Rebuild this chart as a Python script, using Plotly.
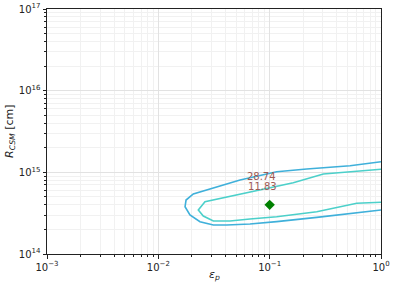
import numpy as np
import plotly.graph_objects as go

# contour levels (log10 values)
outer_level = "28.74"
inner_level = "11.83"

outer_logx = [0.0, -0.278, -0.667, -0.937, -1.266, -1.476, -1.686, -1.751, -1.760, -1.716,
              -1.626, -1.506, -1.386, -1.177, -0.937, -0.577, -0.278, 0.0]
outer_logy = [15.130, 15.081, 15.041, 15.008, 14.906, 14.824, 14.735, 14.661, 14.579, 14.478,
              14.396, 14.355, 14.355, 14.367, 14.396, 14.449, 14.498, 14.539]

inner_logx = [0.0, -0.518, -0.788, -1.087, -1.386, -1.581, -1.641, -1.596, -1.506, -1.356,
              -1.177, -0.937, -0.577, -0.218, 0.0]
inner_logy = [15.037, 14.980, 14.873, 14.784, 14.694, 14.640, 14.539, 14.465, 14.404, 14.404,
              14.429, 14.457, 14.518, 14.621, 14.633]

best_x = [0.1]
best_y = [4e14]

label_x = [0.084, 0.086]
label_y = [8.7e14, 6.5e14]
label_text = [outer_level, inner_level]

x_exponents = [-3, -2, -1, 0]
y_exponents = [14, 15, 16, 17]
x_ticktext = ["10<sup>−3</sup>", "10<sup>−2</sup>", "10<sup>−1</sup>", "10<sup>0</sup>"]
y_ticktext = ["10<sup>14</sup>", "10<sup>15</sup>", "10<sup>16</sup>", "10<sup>17</sup>"]

fig = go.Figure()
fig.add_trace(go.Scatter(x=10 ** np.array(outer_logx), y=10 ** np.array(outer_logy), mode="lines",
                         line=dict(color="#3fb0da", width=1.6), showlegend=False))
fig.add_trace(go.Scatter(x=10 ** np.array(inner_logx), y=10 ** np.array(inner_logy), mode="lines",
                         line=dict(color="#4cd0ca", width=1.6), showlegend=False))
fig.add_trace(go.Scatter(x=best_x, y=best_y, mode="markers",
                         marker=dict(symbol="diamond", color="green", size=8), showlegend=False))
fig.add_trace(go.Scatter(x=label_x, y=label_y, mode="text", text=label_text,
                         textfont=dict(color="#9e5a55", size=10, family="DejaVu Sans"),
                         showlegend=False))

axis_common = dict(
    type="log", showline=True, linecolor="#222", linewidth=1, mirror=True,
    ticks="outside", ticklen=3.5, tickcolor="#222", showgrid=True, gridcolor="#e2e2e2",
    gridwidth=1, zeroline=False, automargin=False, tickmode="array",
    tickfont=dict(family="DejaVu Sans", size=10, color="#222"),
    minor=dict(ticks="outside", ticklen=2, tickcolor="#222", showgrid=True,
               gridcolor="#f1f1f1", dtick="D1"),
)

fig.update_xaxes(range=[-3, 0], tickvals=[10.0 ** e for e in x_exponents], ticktext=x_ticktext,
                 **axis_common)
fig.update_yaxes(range=[14, 17], tickvals=[10.0 ** e for e in y_exponents], ticktext=y_ticktext,
                 **axis_common)

fig.add_annotation(text="<i>ε</i><sub><i>p</i></sub>", xref="paper", yref="paper", x=0.5,
                   y=-21 / 245, xanchor="center", yanchor="middle", showarrow=False,
                   font=dict(family="DejaVu Sans", size=11, color="#222"))
fig.add_annotation(text="<i>R</i><sub><i>CSM</i></sub> [cm]", xref="paper", yref="paper",
                   x=-37 / 334, y=0.502, xanchor="center", yanchor="middle", textangle=-90,
                   showarrow=False, font=dict(family="DejaVu Sans", size=11, color="#222"))

fig.update_layout(width=396, height=290, margin=dict(l=47, r=15, t=9, b=36, autoexpand=False),
                  plot_bgcolor="white", paper_bgcolor="white")
fig.write_html("out.html", config={"displayModeBar": False},
               post_script="document.body.style.margin='0';document.body.style.overflow='hidden';")
